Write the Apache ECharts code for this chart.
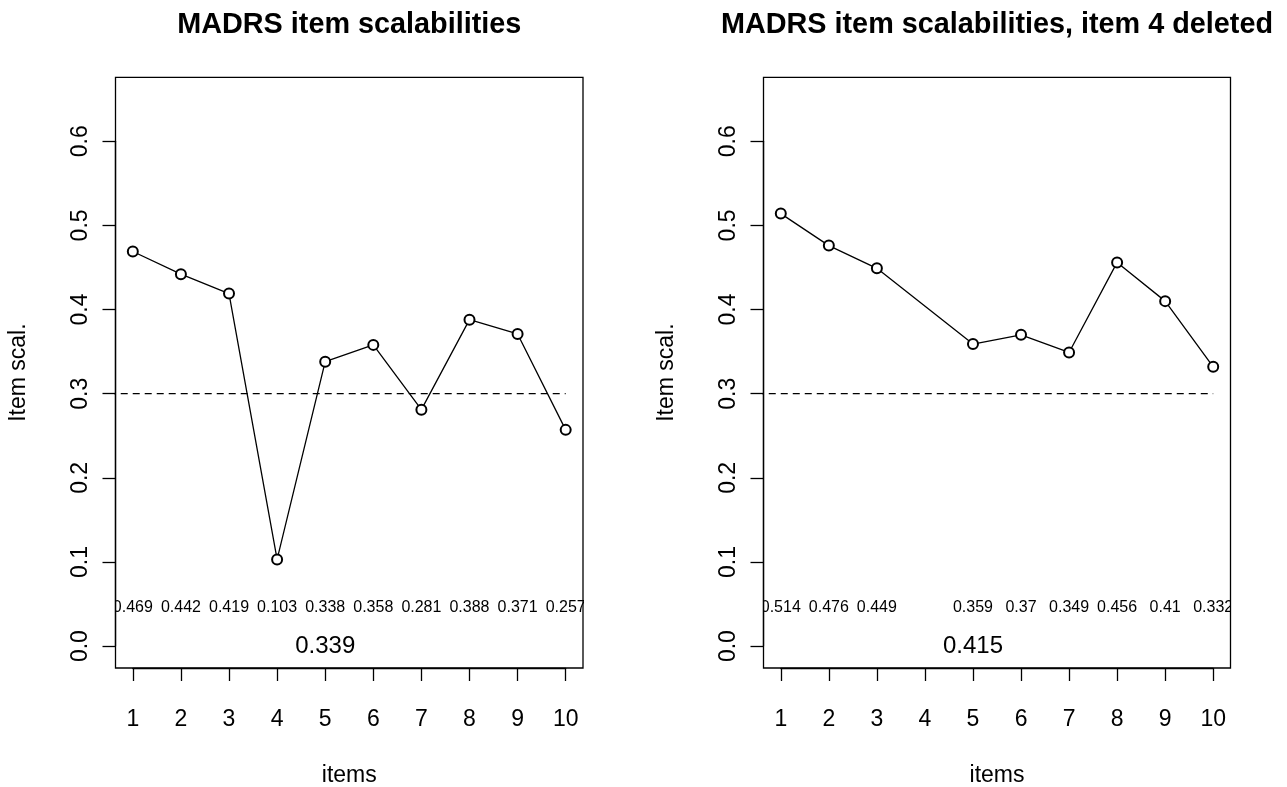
<!DOCTYPE html>
<html>
<head>
<meta charset="utf-8">
<title>MADRS item scalabilities</title>
<script src="https://cdn.jsdelivr.net/npm/echarts@6/dist/echarts.min.js"></script>
<style>
  html, body { margin: 0; padding: 0; background: #fff; }
  #chart { width: 1287px; height: 787px; }
</style>
</head>
<body>
<div id="chart"></div>
<script>
// Item numbers and tick labels
const items = [1, 2, 3, 4, 5, 6, 7, 8, 9, 10];
const xTickLabels = ['1', '2', '3', '4', '5', '6', '7', '8', '9', '10'];
const yTickLabels = ['0.0', '0.1', '0.2', '0.3', '0.4', '0.5', '0.6'];

// Item scalabilities, all items
const scalAll = [0.469, 0.442, 0.419, 0.103, 0.338, 0.358, 0.281, 0.388, 0.371, 0.257];
const scaleAll = 0.339;

// Item scalabilities after deleting item 4
const scalDeleted = [0.514, 0.476, 0.449, null, 0.359, 0.37, 0.349, 0.456, 0.41, 0.332];
const scaleDeleted = 0.415;

// Reference level for acceptable scalability
const cutoff = 0.3;

const titles = ['MADRS item scalabilities', 'MADRS item scalabilities, item 4 deleted'];

// ---- layout ----
const FONT = '"Liberation Sans", Arial, Helvetica, sans-serif';
const boxTop = 77.3, boxBottom = 668, boxH = boxBottom - boxTop;
const boxes = [{ left: 115.5, width: 467.5 }, { left: 763.5, width: 467 }];
const xMin = 0.64, xMax = 10.36;      // 1..10 widened by 4%
const yMin = -0.026, yMax = 0.676;    // 0..0.65 widened by 4%
const labelY = 0.046;                 // height of the per-item value row
const scaleY = 0.0;                   // height of the overall scale value

const grids = [], xAxes = [], yAxes = [], series = [], title = [];

function xPix(b, v) { return b.left + (v - xMin) / (xMax - xMin) * b.width; }
function yPix(v) { return boxTop + (yMax - v) / (yMax - yMin) * boxH; }

const panels = [
  { vals: scalAll, scale: scaleAll },
  { vals: scalDeleted, scale: scaleDeleted }
];

panels.forEach((p, k) => {
  const b = boxes[k];
  const g0 = grids.length;
  // plot box
  grids.push({ left: b.left, top: boxTop, width: b.width, height: boxH, outerBoundsMode: 'none',
    show: true, borderColor: '#000', borderWidth: 1.3, backgroundColor: 'transparent' });
  // x ticks grid spanning items 1..10
  const x1 = xPix(b, 1), x10 = xPix(b, 10);
  grids.push({ left: x1, top: boxTop, width: x10 - x1, height: boxH, show: false, outerBoundsMode: 'none' });
  // y ticks grid spanning 0..0.6
  const y06 = yPix(0.6), y0 = yPix(0);
  grids.push({ left: b.left, top: y06, width: b.width, height: y0 - y06, show: false, outerBoundsMode: 'none' });

  const hidden = { axisLine: { show: false }, axisTick: { show: false },
    axisLabel: { show: false }, splitLine: { show: false } };

  // box axes (carry names)
  xAxes.push(Object.assign({ type: 'value', gridIndex: g0, min: xMin, max: xMax,
    name: 'items', nameLocation: 'middle', nameGap: 108,
    nameTextStyle: { fontSize: 23, color: '#000', fontFamily: FONT, verticalAlign: 'middle' } }, hidden));
  yAxes.push(Object.assign({ type: 'value', gridIndex: g0, min: yMin, max: yMax,
    name: 'Item scal.', nameLocation: 'middle', nameGap: 97,
    nameTextStyle: { fontSize: 23, color: '#000', fontFamily: FONT, verticalAlign: 'middle' } }, hidden));

  // x tick axis
  xAxes.push({ type: 'value', gridIndex: g0 + 1, min: 1, max: 10, interval: 1, position: 'bottom',
    axisLine: { show: true, lineStyle: { color: '#000', width: 1.3 } },
    axisTick: { show: true, length: 13, lineStyle: { color: '#000', width: 1.3 } },
    splitLine: { show: false },
    axisLabel: { show: true, fontSize: 23, color: '#000', fontFamily: FONT, margin: 52,
      verticalAlign: 'middle', formatter: v => xTickLabels[Math.round(v) - 1] } });
  yAxes.push(Object.assign({ type: 'value', gridIndex: g0 + 1, show: false, min: 0, max: 1 }, hidden));

  // y tick axis
  xAxes.push(Object.assign({ type: 'value', gridIndex: g0 + 2, show: false, min: 0, max: 1 }, hidden));
  yAxes.push({ type: 'value', gridIndex: g0 + 2, min: 0, max: 0.6, interval: 0.1, position: 'left',
    axisLine: { show: true, lineStyle: { color: '#000', width: 1.3 } },
    axisTick: { show: true, length: 13, lineStyle: { color: '#000', width: 1.3 } },
    splitLine: { show: false },
    axisLabel: { show: true, fontSize: 23, color: '#000', fontFamily: FONT, rotate: 90, margin: 35,
      verticalAlign: 'middle', align: 'center',
      formatter: v => yTickLabels[Math.round(v * 10)] } });

  const xi = xAxes.length - 3, yi = yAxes.length - 3;

  // dashed reference line
  series.push({ type: 'line', xAxisIndex: xi, yAxisIndex: yi, clip: true, silent: true,
    data: [[0, cutoff], [10, cutoff]], symbol: 'none',
    lineStyle: { color: '#000', width: 1.3, type: [7, 5] } });

  // scalability profile
  const pts = items.map((x, i) => [x, p.vals[i]]).filter(d => d[1] !== null);
  series.push({ type: 'line', xAxisIndex: xi, yAxisIndex: yi, clip: true, data: pts,
    symbol: 'emptyCircle', symbolSize: 10,
    lineStyle: { color: '#000', width: 1.3 },
    itemStyle: { color: '#000', borderColor: '#000', borderWidth: 1.2 } });

  // value row under the profile
  series.push({ type: 'custom', xAxisIndex: xi, yAxisIndex: yi, clip: true, silent: true,
    data: pts.map(d => [d[0], d[1]]),
    renderItem: (params, api) => {
      const c = api.coord([api.value(0), labelY]);
      return { type: 'text', x: c[0], y: c[1],
        style: { text: String(api.value(1)), fontSize: 16, fontFamily: FONT, fill: '#000',
          align: 'center', verticalAlign: 'middle' } };
    } });

  // overall scale value
  series.push({ type: 'custom', xAxisIndex: xi, yAxisIndex: yi, clip: true, silent: true,
    data: [[5, p.scale]],
    renderItem: (params, api) => {
      const c = api.coord([api.value(0), scaleY]);
      return { type: 'text', x: c[0], y: c[1],
        style: { text: String(api.value(1)), fontSize: 24, fontFamily: FONT, fill: '#000',
          align: 'center', verticalAlign: 'middle' } };
    } });

  title.push({ text: titles[k], left: b.left + b.width / 2, top: 11, textAlign: 'center', padding: 0,
    textStyle: { fontSize: 28.8, fontWeight: 'bold', color: '#000', fontFamily: FONT } });
});

const chart = echarts.init(document.getElementById('chart'), null, { renderer: 'canvas' });
chart.setOption({
  animation: false,
  backgroundColor: '#fff',
  title: title,
  grid: grids,
  xAxis: xAxes,
  yAxis: yAxes,
  series: series
});
</script>
</body>
</html>
